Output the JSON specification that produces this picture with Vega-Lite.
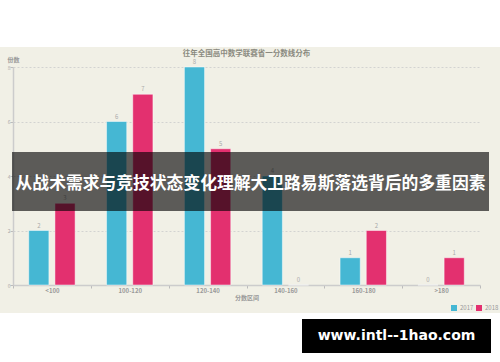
{
  "$schema": "https://vega.github.io/schema/vega-lite/v6.json",
  "width": 467,
  "height": 218,
  "autosize": {"type": "none"},
  "padding": {"left": 13, "top": 67, "right": 20, "bottom": 77},
  "background": "#f1f0e6",
  "config": {"view": {"stroke": null}, "font": "Noto Sans CJK SC"},
  "title": {"text": "往年全国高中数学联赛省一分数线分布", "fontSize": 7.5, "fontWeight": "bold", "color": "#8a8a80", "anchor": "middle", "offset": 4, "dy": 61},
  "data": {"values": [
    {"range": "<100", "year": "2017", "count": 2},
    {"range": "<100", "year": "2018", "count": 3},
    {"range": "100-120", "year": "2017", "count": 6},
    {"range": "100-120", "year": "2018", "count": 7},
    {"range": "120-140", "year": "2017", "count": 8},
    {"range": "120-140", "year": "2018", "count": 5},
    {"range": "140-160", "year": "2017", "count": 4},
    {"range": "140-160", "year": "2018", "count": 0},
    {"range": "160-180", "year": "2017", "count": 1},
    {"range": "160-180", "year": "2018", "count": 2},
    {"range": ">180", "year": "2017", "count": 0},
    {"range": ">180", "year": "2018", "count": 1}
  ]},
  "layer": [
    {
      "data": {"values": [{}]},
      "mark": {"type": "rect", "color": "white"},
      "encoding": {"x": {"value": -13}, "x2": {"value": 487}, "y": {"value": -67}, "y2": {"value": -20}}
    },
    {
      "data": {"values": [{}]},
      "mark": {"type": "rect", "color": "white"},
      "encoding": {"x": {"value": -13}, "x2": {"value": 487}, "y": {"value": 246}, "y2": {"value": 295}}
    },
    {
      "mark": {"type": "bar", "stroke": "white", "strokeWidth": 0.8, "strokeOpacity": 0.6},
      "encoding": {
        "x": {
          "field": "range", "type": "nominal",
          "sort": ["<100", "100-120", "120-140", "140-160", "160-180", ">180"],
          "scale": {"paddingInner": 0, "paddingOuter": 0},
          "title": "分数区间",
          "axis": {
            "labelAngle": 0, "domainColor": "#cccccc", "domainWidth": 1.5,
            "tickBand": "extent", "tickColor": "#bbbbbb", "tickSize": 3,
            "labelFontSize": 6, "labelColor": "#999999", "labelFontWeight": "bold", "labelPadding": -1,
            "titleFontSize": 6, "titleColor": "#999999", "titleFontWeight": "bold", "titlePadding": 1
          }
        },
        "xOffset": {"field": "year", "type": "nominal", "scale": {"paddingInner": 0.23, "paddingOuter": 0.6}},
        "y": {
          "field": "count", "type": "quantitative",
          "scale": {"domain": [0, 8], "nice": false},
          "title": "份数",
          "axis": {
            "values": [0, 2, 4, 6, 8],
            "domainColor": "#cccccc", "domainWidth": 1.5,
            "tickColor": "#bbbbbb", "tickSize": 3,
            "labelFontSize": 5, "labelColor": "#aaaaaa", "labelPadding": 0,
            "gridColor": "#cccccc", "gridDash": [2, 2], "gridWidth": 0.8,
            "titleAngle": 0, "titleAlign": "left", "titleBaseline": "middle",
            "titleX": -6, "titleY": -8, "titleFontSize": 6, "titleColor": "#999999", "titleFontWeight": "bold"
          }
        },
        "color": {
          "field": "year", "type": "nominal",
          "scale": {"domain": ["2017", "2018"], "range": ["#45b7d3", "#e3306f"]},
          "legend": {
            "title": null, "orient": "none", "legendX": 438, "legendY": 238,
            "direction": "horizontal", "symbolType": "square", "symbolSize": 36,
            "symbolStrokeWidth": 0, "labelFontSize": 6, "labelColor": "#999999",
            "labelOffset": 3, "columnPadding": 2, "padding": 0
          }
        }
      }
    },
    {
      "mark": {"type": "text", "dy": -5, "fontSize": 6, "color": "#aaaaaa"},
      "encoding": {
        "x": {"field": "range", "type": "nominal", "sort": ["<100", "100-120", "120-140", "140-160", "160-180", ">180"]},
        "xOffset": {"field": "year", "type": "nominal"},
        "y": {"field": "count", "type": "quantitative"},
        "text": {"field": "count", "type": "quantitative"}
      }
    },
    {
      "data": {"values": [{}]},
      "mark": {"type": "rect", "color": "black", "opacity": 0.62},
      "encoding": {"x": {"value": -1}, "x2": {"value": 476}, "y": {"value": 85}, "y2": {"value": 144}}
    },
    {
      "data": {"values": [{}]},
      "mark": {"type": "text", "color": "white", "fontSize": 16.8, "fontWeight": "bold", "align": "center", "baseline": "middle"},
      "encoding": {"x": {"value": 237.5}, "y": {"value": 117}, "text": {"value": "从战术需求与竞技状态变化理解大卫路易斯落选背后的多重因素"}}
    },
    {
      "data": {"values": [{}]},
      "mark": {"type": "rect", "color": "black", "opacity": 1},
      "encoding": {"x": {"value": 289}, "x2": {"value": 478}, "y": {"value": 252}, "y2": {"value": 286}}
    },
    {
      "data": {"values": [{}]},
      "mark": {"type": "text", "color": "white", "fontSize": 14, "fontWeight": "bold", "font": "DejaVu Sans", "align": "center", "baseline": "middle"},
      "encoding": {"x": {"value": 383.5}, "y": {"value": 269}, "text": {"value": "www.intl--1hao.com"}}
    }
  ]
}
